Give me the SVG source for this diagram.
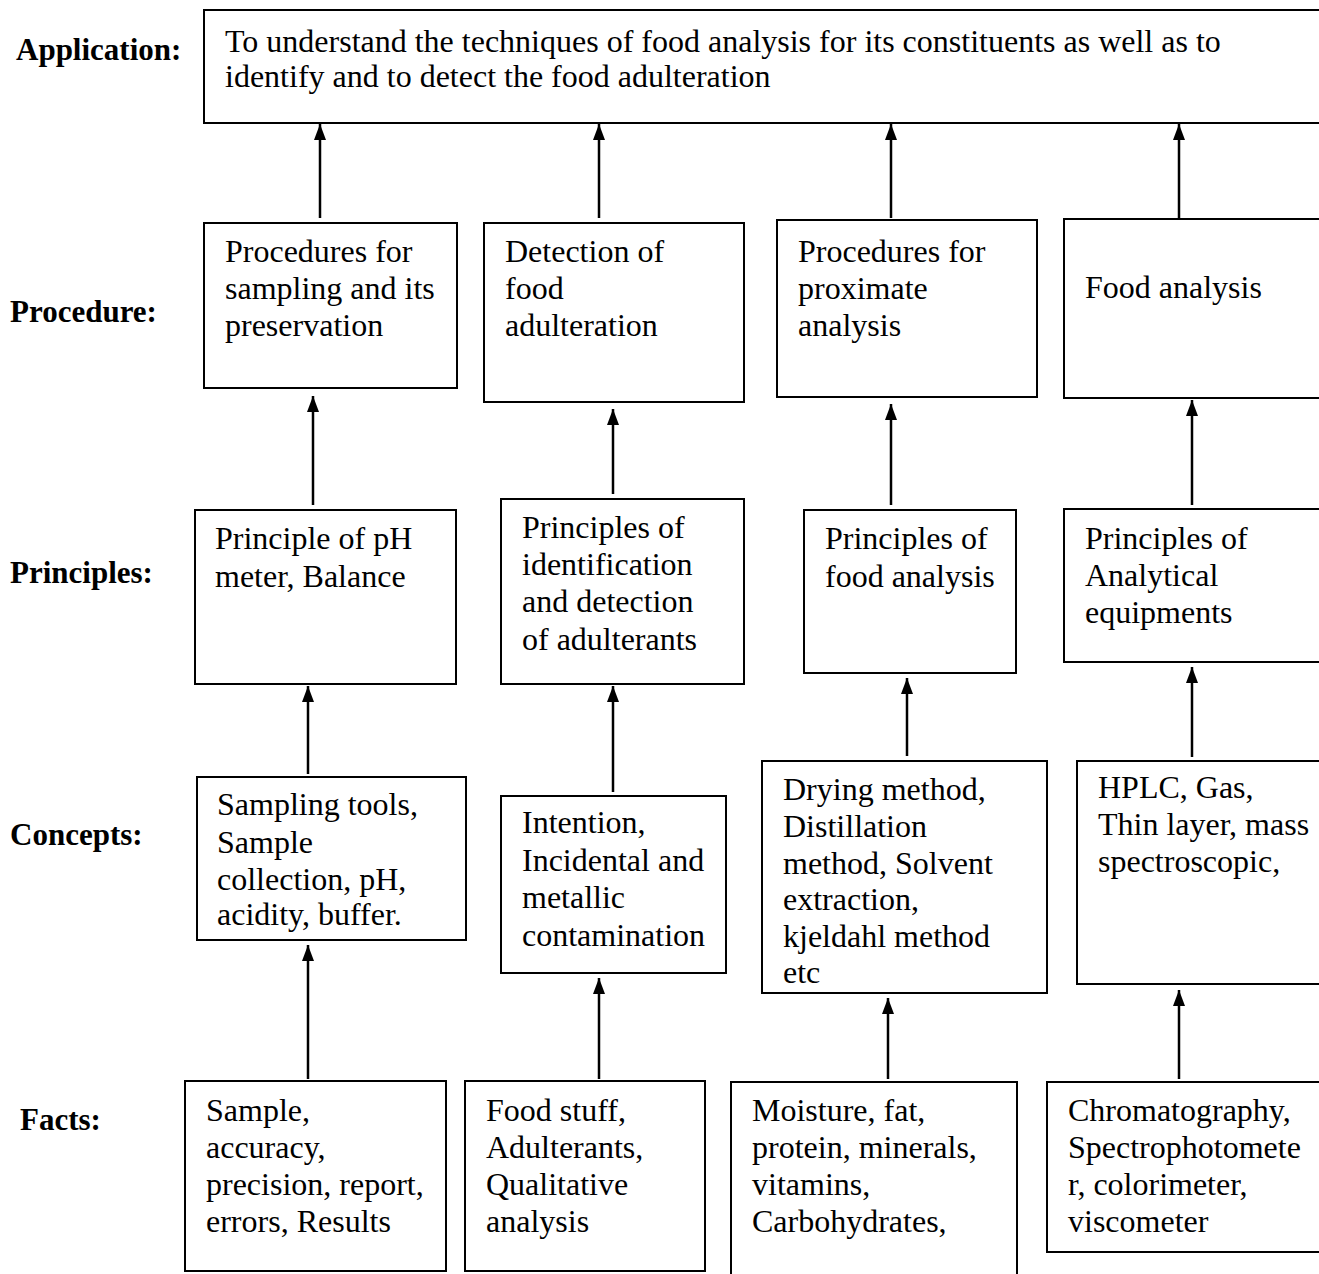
<svg xmlns="http://www.w3.org/2000/svg" width="1319" height="1274" viewBox="0 0 1319 1274">
<style>
.box{fill:#fff;stroke:#000;stroke-width:2}
.t{font-family:'Liberation Serif','Times New Roman',serif;font-size:32px;font-weight:normal;fill:#000}
.lbl{font-family:'Liberation Serif','Times New Roman',serif;font-size:31px;font-weight:bold;fill:#000}
.arr{stroke:#000;stroke-width:2.5;fill:none;marker-end:url(#ah)}
</style>
<defs>
<marker id="ah" viewBox="0 0 16 12" refX="16" refY="6" markerWidth="16" markerHeight="12" markerUnits="userSpaceOnUse" orient="auto">
<path d="M0,0 L16,6 L0,12 z" fill="#000"/>
</marker>
</defs>
<rect width="1319" height="1274" fill="#fff"/>
<g id="labels">
<text class="lbl" x="16" y="60">Application:</text>
<text class="lbl" x="10" y="322">Procedure:</text>
<text class="lbl" x="10" y="583">Principles:</text>
<text class="lbl" x="10" y="845">Concepts:</text>
<text class="lbl" x="20" y="1130">Facts:</text>
</g>
<g id="application">
<rect class="box" x="204" y="10" width="1130" height="113"/>
<text class="t" x="225" y="52">To understand the techniques of food analysis for its constituents as well as to</text>
<text class="t" x="225" y="87">identify and to detect the food adulteration</text>
</g>
<g id="proc1"><rect class="box" x="204" y="223" width="253" height="165"/>
<text class="t" x="225" y="262">Procedures for</text><text class="t" x="225" y="299">sampling and its</text><text class="t" x="225" y="336">preservation</text></g>
<g id="proc2"><rect class="box" x="484" y="223" width="260" height="179"/>
<text class="t" x="505" y="262">Detection of</text><text class="t" x="505" y="299">food</text><text class="t" x="505" y="336">adulteration</text></g>
<g id="proc3"><rect class="box" x="777" y="220" width="260" height="177"/>
<text class="t" x="798" y="262">Procedures for</text><text class="t" x="798" y="299">proximate</text><text class="t" x="798" y="336">analysis</text></g>
<g id="proc4"><rect class="box" x="1064" y="219" width="280" height="179"/>
<text class="t" x="1085" y="298">Food analysis</text></g>
<g id="prin1"><rect class="box" x="195" y="510" width="261" height="174"/>
<text class="t" x="215" y="549">Principle of pH</text><text class="t" x="215" y="587">meter, Balance</text></g>
<g id="prin2"><rect class="box" x="501" y="499" width="243" height="185"/>
<text class="t" x="522" y="538">Principles of</text><text class="t" x="522" y="575">identification</text><text class="t" x="522" y="612">and detection</text><text class="t" x="522" y="650">of adulterants</text></g>
<g id="prin3"><rect class="box" x="804" y="510" width="212" height="163"/>
<text class="t" x="825" y="549">Principles of</text><text class="t" x="825" y="587">food analysis</text></g>
<g id="prin4"><rect class="box" x="1064" y="509" width="280" height="153"/>
<text class="t" x="1085" y="549">Principles of</text><text class="t" x="1085" y="586">Analytical</text><text class="t" x="1085" y="623">equipments</text></g>
<g id="conc1"><rect class="box" x="197" y="777" width="269" height="163"/>
<text class="t" x="217" y="815">Sampling tools,</text><text class="t" x="217" y="853">Sample</text><text class="t" x="217" y="890">collection, pH,</text><text class="t" x="217" y="925">acidity, buffer.</text></g>
<g id="conc2"><rect class="box" x="501" y="796" width="225" height="177"/>
<text class="t" x="522" y="833">Intention,</text><text class="t" x="522" y="871">Incidental and</text><text class="t" x="522" y="908">metallic</text><text class="t" x="522" y="946">contamination</text></g>
<g id="conc3"><rect class="box" x="762" y="761" width="285" height="232"/>
<text class="t" x="783" y="800">Drying method,</text><text class="t" x="783" y="837">Distillation</text><text class="t" x="783" y="874">method, Solvent</text><text class="t" x="783" y="910">extraction,</text><text class="t" x="783" y="947">kjeldahl method</text><text class="t" x="783" y="983">etc</text></g>
<g id="conc4"><rect class="box" x="1077" y="761" width="280" height="223"/>
<text class="t" x="1098" y="798">HPLC, Gas,</text><text class="t" x="1098" y="835">Thin layer, mass</text><text class="t" x="1098" y="872">spectroscopic,</text></g>
<g id="fact1"><rect class="box" x="185" y="1081" width="261" height="190"/>
<text class="t" x="206" y="1121">Sample,</text><text class="t" x="206" y="1158">accuracy,</text><text class="t" x="206" y="1195">precision, report,</text><text class="t" x="206" y="1232">errors, Results</text></g>
<g id="fact2"><rect class="box" x="465" y="1081" width="240" height="190"/>
<text class="t" x="486" y="1121">Food stuff,</text><text class="t" x="486" y="1158">Adulterants,</text><text class="t" x="486" y="1195">Qualitative</text><text class="t" x="486" y="1232">analysis</text></g>
<g id="fact3"><rect class="box" x="731" y="1082" width="286" height="220"/>
<text class="t" x="752" y="1121">Moisture, fat,</text><text class="t" x="752" y="1158">protein, minerals,</text><text class="t" x="752" y="1195">vitamins,</text><text class="t" x="752" y="1232">Carbohydrates,</text></g>
<g id="fact4"><rect class="box" x="1047" y="1082" width="290" height="170"/>
<text class="t" x="1068" y="1121">Chromatography,</text><text class="t" x="1068" y="1158">Spectrophotomete</text><text class="t" x="1068" y="1195">r, colorimeter,</text><text class="t" x="1068" y="1232">viscometer</text></g>
<g id="connectors">
<line class="arr" x1="320" y1="218" x2="320" y2="124"/>
<line class="arr" x1="599" y1="218" x2="599" y2="124"/>
<line class="arr" x1="891" y1="218" x2="891" y2="124"/>
<line class="arr" x1="1179" y1="218" x2="1179" y2="124"/>
<line class="arr" x1="313" y1="505" x2="313" y2="396"/>
<line class="arr" x1="613" y1="494" x2="613" y2="409"/>
<line class="arr" x1="891" y1="505" x2="891" y2="404"/>
<line class="arr" x1="1192" y1="505" x2="1192" y2="400"/>
<line class="arr" x1="308" y1="774" x2="308" y2="686"/>
<line class="arr" x1="613" y1="792" x2="613" y2="686"/>
<line class="arr" x1="907" y1="756" x2="907" y2="678"/>
<line class="arr" x1="1192" y1="757" x2="1192" y2="667"/>
<line class="arr" x1="308" y1="1079" x2="308" y2="945"/>
<line class="arr" x1="599" y1="1079" x2="599" y2="978"/>
<line class="arr" x1="888" y1="1079" x2="888" y2="998"/>
<line class="arr" x1="1179" y1="1079" x2="1179" y2="990"/>
</g>
</svg>
